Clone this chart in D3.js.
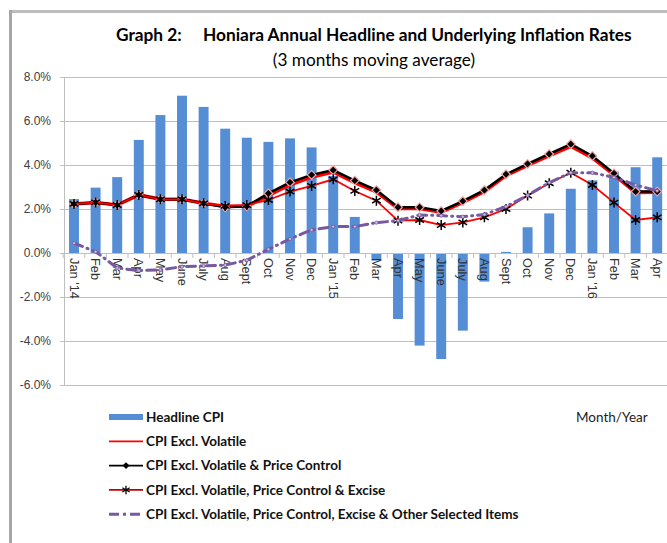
<!DOCTYPE html>
<meta charset="utf-8">
<script src="https://d3js.org/d3.v7.min.js"></script>
<style>
body { margin: 0; background: #fff; }
#chart text { font-family: "Liberation Sans", Arial, sans-serif; }
</style>
<div id="chart"></div>
<script>
// categories (months, Jan '14 .. Apr '16)
var months = ["Jan '14","Feb","Mar","Apr","May","June","July","Aug","Sept","Oct","Nov","Dec",
              "Jan '15","Feb","Mar","Apr","May","June","July","Aug","Sept","Oct","Nov","Dec",
              "Jan '16","Feb","Mar","Apr"];

var headline = [2.45,2.97,3.45,5.14,6.27,7.15,6.64,5.65,5.24,5.05,5.21,4.80,
                3.5,1.64,-0.35,-3.0,-4.21,-4.82,-3.53,-1.3,0.05,1.17,1.8,2.92,
                3.3,3.7,3.9,4.35];

var exclVolatile = [2.23,2.30,2.18,2.64,2.44,2.44,2.26,2.12,2.12,2.62,3.1,3.45,
                    3.68,3.2,2.78,2.02,2.02,1.85,2.3,2.8,3.52,3.98,4.42,4.85,
                    4.32,3.55,2.75,2.76];

var exclVolPrice = [2.23,2.30,2.18,2.64,2.44,2.44,2.26,2.08,2.12,2.71,3.21,3.55,
                    3.77,3.29,2.86,2.08,2.08,1.91,2.36,2.86,3.58,4.05,4.5,4.95,
                    4.41,3.62,2.79,2.79];

var exclVolPriceExcise = [2.23,2.30,2.18,2.64,2.44,2.44,2.26,2.14,2.18,2.41,2.79,3.05,
                          3.35,2.82,2.38,1.47,1.5,1.27,1.39,1.62,2.0,2.61,3.17,3.65,
                          3.09,2.29,1.5,1.62];

var exclOther = [0.45,0.06,-0.68,-0.8,-0.77,-0.62,-0.59,-0.55,-0.33,0.17,0.64,1.05,
                 1.2,1.2,1.38,1.47,1.73,1.70,1.65,1.75,2.11,2.62,3.2,3.65,
                 3.65,3.44,3.09,2.83];

var yTicks = [-6,-4,-2,0,2,4,6,8];

var W = 667, H = 543;
var svg = d3.select("#chart").append("svg").attr("width", W).attr("height", H);

// frame
svg.append("line").attr("x1", 9).attr("x2", W).attr("y1", 11.5).attr("y2", 11.5)
  .attr("stroke", "#bdbdbd").attr("stroke-width", 3);
svg.append("line").attr("x1", 10.5).attr("x2", 10.5).attr("y1", 10).attr("y2", H)
  .attr("stroke", "#a6a6a6").attr("stroke-width", 3);

// titles
svg.append("text").attr("x", 116).attr("y", 41)
  .style("font-family", "Lato, sans-serif").style("font-weight", "bold").style("font-size", "17.3px")
  .text("Graph 2:");
svg.append("text").attr("x", 203).attr("y", 41)
  .style("font-family", "Lato, sans-serif").style("font-weight", "bold").style("font-size", "17.3px")
  .text("Honiara Annual Headline and Underlying Inflation Rates");
svg.append("text").attr("x", 374).attr("y", 66).attr("text-anchor", "middle")
  .style("font-family", "Lato, sans-serif").style("font-size", "17.2px")
  .text("(3 months moving average)");

// scales
var x = d3.scaleBand().domain(d3.range(months.length)).range([63.2, 668]);
var y = d3.scaleLinear().domain([-6, 8]).range([385, 77]);

// gridlines
svg.append("g").selectAll("line").data(yTicks).enter().append("line")
  .attr("x1", 60).attr("x2", W)
  .attr("y1", function(d){ return y(d) + 0.5; }).attr("y2", function(d){ return y(d) + 0.5; })
  .attr("stroke", "#bfbfbf").attr("stroke-width", 1.2);

// y axis
var yAxis = svg.append("g").attr("transform", "translate(64,0)")
  .call(d3.axisLeft(y).tickValues(yTicks).tickSize(0).tickPadding(13)
    .tickFormat(function(d){ return d.toFixed(1) + "%"; }));
yAxis.select(".domain").attr("stroke", "#bfbfbf");
yAxis.selectAll("text").attr("fill", "#404040").style("font-size", "12px");

// bars
svg.append("g").selectAll("rect").data(headline).enter().append("rect")
  .attr("x", function(d, i){ return x(i) + x.bandwidth() * 0.27; })
  .attr("width", x.bandwidth() * 0.46)
  .attr("y", function(d){ return y(Math.max(0, d)); })
  .attr("height", function(d){ return Math.abs(y(d) - y(0)); })
  .attr("fill", "#558ed5");

// category axis at zero
var xAxis = svg.append("g").attr("transform", "translate(0," + y(0) + ")")
  .call(d3.axisBottom(x).tickSize(0).tickFormat(function(i){ return months[i]; }));
xAxis.select(".domain").attr("stroke", "#bfbfbf");
xAxis.selectAll("g.sep").data(d3.range(months.length + 1)).enter().append("line")
  .attr("x1", function(i){ return x.range()[0] + i * x.step(); })
  .attr("x2", function(i){ return x.range()[0] + i * x.step(); })
  .attr("y1", 0).attr("y2", 5).attr("stroke", "#bfbfbf");
xAxis.selectAll(".tick text")
  .attr("transform", "rotate(90)")
  .attr("x", 5).attr("y", 0).attr("dy", "0.35em")
  .attr("text-anchor", "start")
  .attr("fill", "#333").style("font-size", "12.8px");

function lineFor(arr) {
  return d3.line()
    .x(function(d, i){ return x(i) + x.bandwidth() / 2; })
    .y(function(d){ return y(d); })(arr);
}
function cx(i){ return x(i) + x.bandwidth() / 2; }

// CPI Excl. Volatile
svg.append("path").attr("d", lineFor(exclVolatile)).attr("fill", "none")
  .attr("stroke", "#ff0000").attr("stroke-width", 3.5);

// CPI Excl. Volatile & Price Control
svg.append("path").attr("d", lineFor(exclVolPrice)).attr("fill", "none")
  .attr("stroke", "#000").attr("stroke-width", 2.5);
svg.append("g").selectAll("path").data(exclVolPrice).enter().append("path")
  .attr("d", d3.symbol().type(d3.symbolDiamond2).size(48))
  .attr("transform", function(d, i){ return "translate(" + cx(i) + "," + y(d) + ")"; })
  .attr("fill", "#000").attr("stroke", "#f2a6a6").attr("stroke-width", 1.2);

// CPI Excl. Volatile, Price Control & Excise
svg.append("path").attr("d", lineFor(exclVolPriceExcise)).attr("fill", "none")
  .attr("stroke", "#ff0000").attr("stroke-width", 1.8);
svg.append("g").selectAll("path").data(exclVolPriceExcise).enter().append("path")
  .attr("d", d3.symbol().type(d3.symbolAsterisk).size(70))
  .attr("transform", function(d, i){ return "translate(" + cx(i) + "," + y(d) + ")"; })
  .attr("fill", "none").attr("stroke", "#000").attr("stroke-width", 1.5);

// CPI Excl. Volatile, Price Control, Excise & Other Selected Items
svg.append("path").attr("d", lineFor(exclOther)).attr("fill", "none")
  .attr("stroke", "#7659a0").attr("stroke-width", 3).attr("stroke-linecap", "round")
  .attr("stroke-dasharray", "9,5,1,5");
svg.append("g").selectAll("circle").data(exclOther).enter().append("circle")
  .attr("cx", function(d, i){ return cx(i); }).attr("cy", function(d){ return y(d); })
  .attr("r", 1.6).attr("fill", "#c9bcdc").attr("stroke", "#7659a0").attr("stroke-width", 0.8);

// legend
var legendItems = [
  {name: "Headline CPI", kind: "bar"},
  {name: "CPI Excl. Volatile", kind: "red"},
  {name: "CPI Excl. Volatile & Price Control", kind: "diamond"},
  {name: "CPI Excl. Volatile, Price Control & Excise", kind: "star"},
  {name: "CPI Excl. Volatile, Price Control, Excise & Other Selected Items", kind: "purple"}
];
var lg = svg.append("g").attr("transform", "translate(109,417)");
legendItems.forEach(function(it, k) {
  var g = lg.append("g").attr("transform", "translate(0," + (k * 24.3) + ")");
  if (it.kind === "bar") {
    g.append("rect").attr("x", 0).attr("y", -3).attr("width", 34).attr("height", 6).attr("fill", "#558ed5");
  } else if (it.kind === "red") {
    g.append("line").attr("x1", 0).attr("x2", 34).attr("stroke", "#ff0000").attr("stroke-width", 1.8);
  } else if (it.kind === "diamond") {
    g.append("line").attr("x1", 0).attr("x2", 34).attr("stroke", "#000").attr("stroke-width", 1.8);
    g.append("path").attr("d", d3.symbol().type(d3.symbolDiamond2).size(30))
      .attr("transform", "translate(17,0)").attr("fill", "#000");
  } else if (it.kind === "star") {
    g.append("line").attr("x1", 0).attr("x2", 34).attr("stroke", "#c00000").attr("stroke-width", 1.8);
    g.append("path").attr("d", d3.symbol().type(d3.symbolAsterisk).size(50))
      .attr("transform", "translate(17,0)").attr("fill", "none").attr("stroke", "#000").attr("stroke-width", 1.3);
  } else {
    g.append("line").attr("x1", 0).attr("x2", 34).attr("stroke", "#7659a0").attr("stroke-width", 3)
      .attr("stroke-dasharray", "10,4,3,4");
  }
  g.append("text").attr("x", 37).attr("y", 0).attr("dy", "0.35em")
    .style("font-family", "Lato, sans-serif").style("font-weight", "bold").style("font-size", "13.5px")
    .attr("fill", "#111").text(it.name);
});
svg.append("text").attr("x", 576).attr("y", 417).attr("dy", "0.35em")
  .style("font-family", "Lato, sans-serif").style("font-size", "13.5px")
  .attr("fill", "#222").text("Month/Year");
</script>
